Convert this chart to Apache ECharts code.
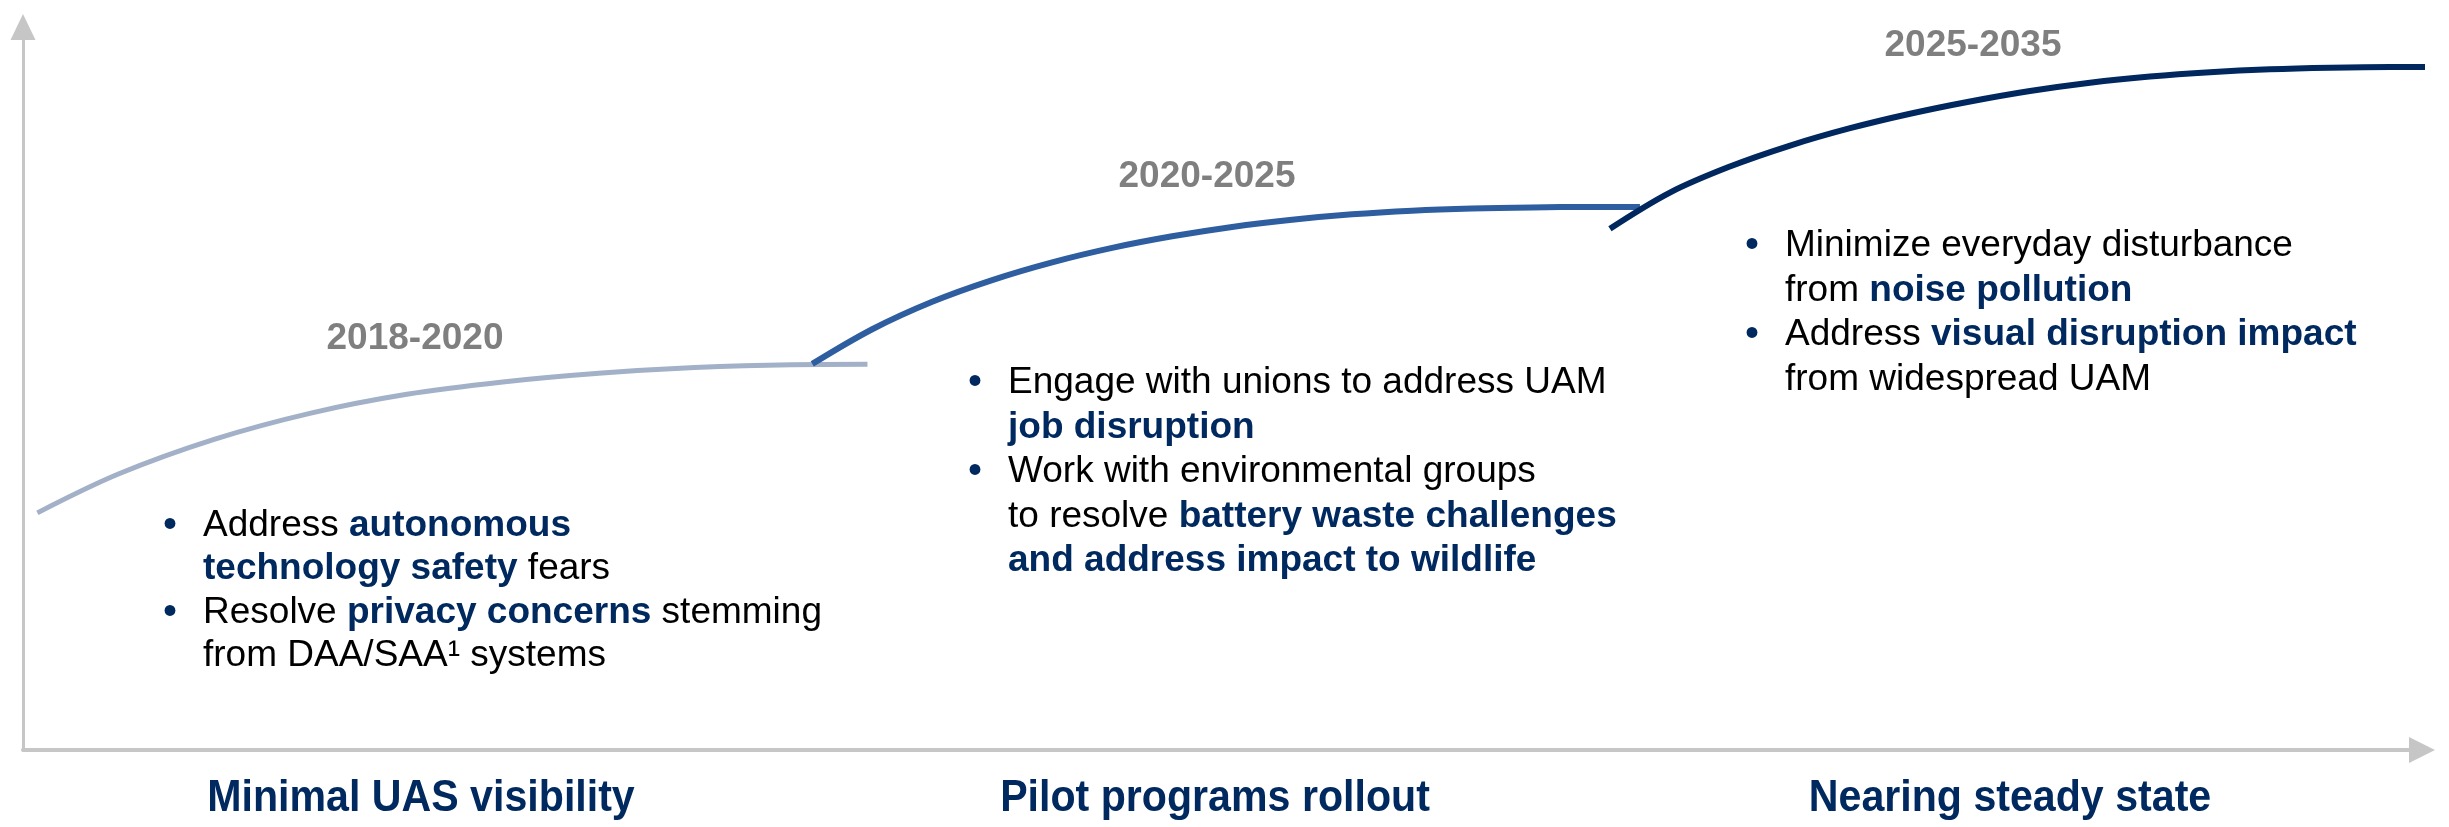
<!DOCTYPE html>
<html>
<head>
<meta charset="utf-8">
<title>UAM adoption stages</title>
<script src="https://cdn.jsdelivr.net/npm/echarts@6/dist/echarts.min.js"></script>
<style>
  html, body { margin: 0; padding: 0; background: #fff; }
  #main { width: 2449px; height: 827px; }
</style>
</head>
<body>
<div id="main"></div>
<script>
// stage curves (x = time, y = adoption level, both 0..100)
var stage1X = [0.6, 4.0, 8.0, 12.0, 16.0, 20.0, 24.0, 28.0, 32.0, 35.2];
var stage1Y = [32.8, 38.2, 43.0, 46.6, 49.2, 50.9, 52.1, 52.9, 53.3, 53.35];
var stage2X = [32.9, 35.4, 37.9, 40.4, 42.9, 45.4, 47.9, 50.4, 52.9, 55.4, 57.9, 60.4, 62.9, 65.3, 67.4];
var stage2Y = [53.4, 58.2, 62.0, 65.0, 67.45, 69.45, 71.05, 72.35, 73.35, 74.1, 74.6, 74.9, 75.05, 75.1, 75.1];
var stage3X = [66.15, 68.65, 71.15, 73.66, 76.16, 78.66, 81.16, 83.66, 86.16, 88.66, 91.16, 93.66, 96.17, 98.67, 100.7];
var stage3Y = [72.1, 77.1, 80.7, 83.6, 86.0, 88.0, 89.7, 91.15, 92.3, 93.15, 93.75, 94.15, 94.37, 94.47, 94.47];

var periods = ['2018-2020', '2020-2025', '2025-2035'];
var phases = ['Minimal UAS visibility', 'Pilot programs rollout', 'Nearing steady state'];
var notes = [
  'Address {b|autonomous}\n{b|technology safety} fears\nResolve {b|privacy concerns} stemming\nfrom DAA/SAA\u00b9 systems',
  'Engage with unions to address UAM\n{b|job disruption}\nWork with environmental groups\nto resolve {b|battery waste challenges}\n{b|and address impact to wildlife}',
  'Minimize everyday disturbance\nfrom {b|noise pollution}\nAddress {b|visual disruption impact}\nfrom widespread UAM'
];

var FONT = '"Liberation Sans", Arial, Helvetica, sans-serif';
var NAVY = '#002960';

function pairs(xs, ys) {
  return xs.map(function (x, i) { return [x, ys[i]]; });
}

function curve(name, xs, ys, color, width) {
  return {
    name: name,
    type: 'line',
    data: pairs(xs, ys),
    smooth: 0.35,
    showSymbol: false,
    clip: false,
    silent: true,
    lineStyle: { color: color, width: width, cap: 'butt' }
  };
}

function label(x, y, text, size, color, sx) {
  return {
    type: 'text', x: x, y: y, scaleX: sx || 1, silent: true,
    style: {
      text: text, fill: color, fontSize: size, fontWeight: 'bold', fontFamily: FONT,
      textAlign: 'center', align: 'center', textVerticalAlign: 'middle', verticalAlign: 'middle'
    }
  };
}

function block(x, y, lh, text) {
  return {
    type: 'text', x: x, y: y, silent: true,
    style: {
      text: text, fill: '#000', fontSize: 37, fontFamily: FONT, lineHeight: lh,
      textAlign: 'left', align: 'left', textVerticalAlign: 'top', verticalAlign: 'top',
      rich: {
        b: { fill: NAVY, fontWeight: 'bold', fontSize: 37, fontFamily: FONT, lineHeight: lh }
      }
    }
  };
}

function bullets(x, y, lh) {
  return {
    type: 'text', x: x, y: y, silent: true,
    style: {
      text: '\u2022\n\n\u2022', fill: NAVY, fontSize: 40, fontFamily: FONT, lineHeight: lh,
      textAlign: 'center', align: 'center', textVerticalAlign: 'top', verticalAlign: 'top'
    }
  };
}

var chart = echarts.init(document.getElementById('main'));

var option = {
  animation: false,
  backgroundColor: '#fff',
  grid: { left: 23, right: 27, top: 27, bottom: 77 },
  xAxis: {
    type: 'value', min: 0, max: 100,
    axisLine: {
      show: true, symbol: ['none', 'triangle'], symbolSize: [26, 26],
      lineStyle: { color: '#c6c6c6', width: 4 }
    },
    axisTick: { show: false }, axisLabel: { show: false }, splitLine: { show: false }
  },
  yAxis: {
    type: 'value', min: 0, max: 100,
    axisLine: {
      show: true, symbol: ['none', 'triangle'], symbolSize: [25, 26],
      lineStyle: { color: '#c6c6c6', width: 3 }
    },
    axisTick: { show: false }, axisLabel: { show: false }, splitLine: { show: false }
  },
  series: [
    curve(periods[0], stage1X, stage1Y, '#a2b1c7', 5),
    curve(periods[1], stage2X, stage2Y, '#2e5e9f', 6),
    curve(periods[2], stage3X, stage3Y, '#00285e', 6)
  ],
  graphic: [
    // period labels
    label(415, 339, periods[0], 37, '#7f7f7f'),
    label(1207, 177, periods[1], 37, '#7f7f7f'),
    label(1973, 46, periods[2], 37, '#7f7f7f'),
    // phase titles under the axis
    label(421, 799, phases[0], 44, NAVY, 0.935),
    label(1215, 799, phases[1], 44, NAVY, 0.935),
    label(2010, 799, phases[2], 44, NAVY, 0.935),
    // bullet notes
    bullets(170, 504, 43.5),
    block(203, 504, 43.5, notes[0]),
    bullets(975, 361, 44.5),
    block(1008, 361, 44.5, notes[1]),
    bullets(1752, 224, 44.5),
    block(1785, 224, 44.5, notes[2])
  ]
};

chart.setOption(option);
</script>
</body>
</html>
